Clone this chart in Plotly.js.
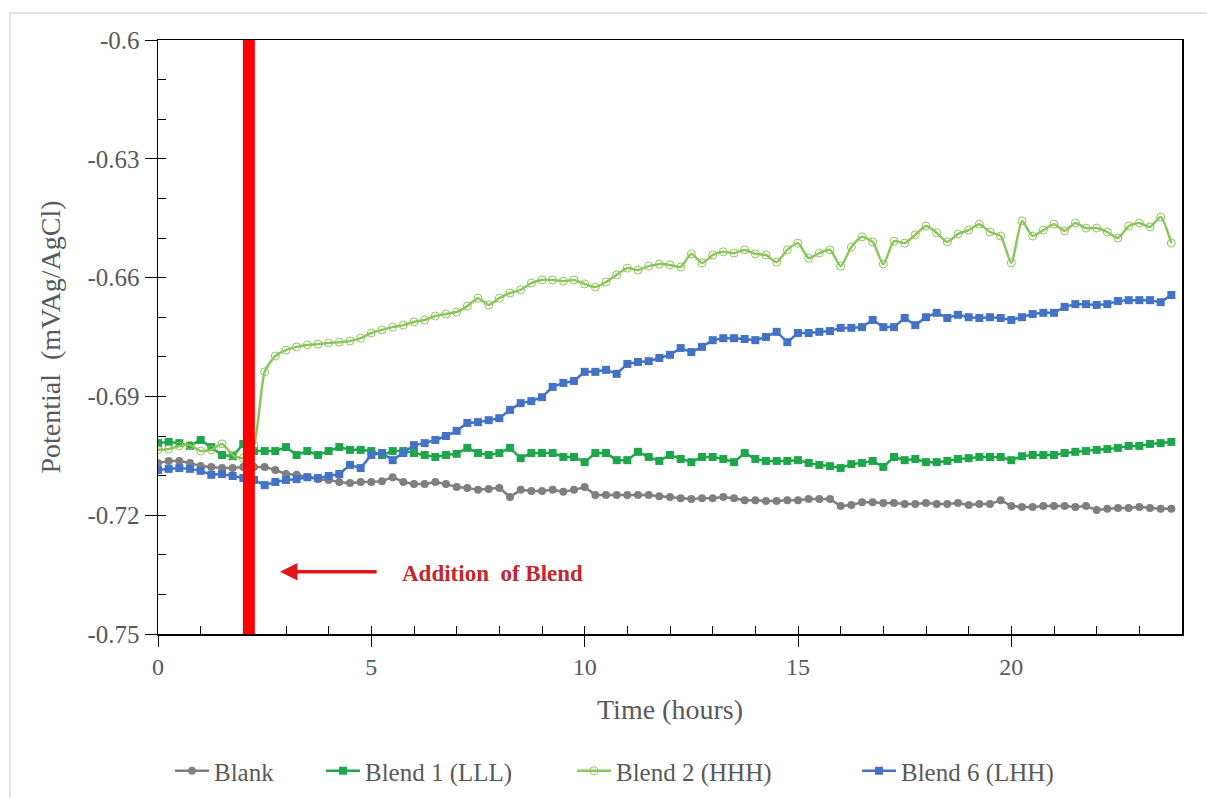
<!DOCTYPE html>
<html>
<head>
<meta charset="utf-8">
<script src="https://cdn.plot.ly/plotly-3.0.1.min.js"></script>
<style>html,body{margin:0;padding:0;background:#fff;}#chart{width:1207px;height:798px;}</style>
</head>
<body>
<div id="chart"></div>
<script>
const timeHours = [0,0.25,0.5,0.75,1,1.25,1.5,1.75,2,2.25,2.5,2.75,3,3.25,3.5,3.75,4,4.25,4.5,4.75,5,5.25,5.5,5.75,6,6.25,6.5,6.75,7,7.25,7.5,7.75,8,8.25,8.5,8.75,9,9.25,9.5,9.75,10,10.25,10.5,10.75,11,11.25,11.5,11.75,12,12.25,12.5,12.75,13,13.25,13.5,13.75,14,14.25,14.5,14.75,15,15.25,15.5,15.75,16,16.25,16.5,16.75,17,17.25,17.5,17.75,18,18.25,18.5,18.75,19,19.25,19.5,19.75,20,20.25,20.5,20.75,21,21.25,21.5,21.75,22,22.25,22.5,22.75,23,23.25,23.5,23.75];

const blank = [-0.7068,-0.7063,-0.7063,-0.7068,-0.7076,-0.7078,-0.7081,-0.7081,-0.7078,-0.7078,
 -0.7078,-0.7086,-0.7096,-0.7098,-0.7104,-0.7109,-0.7111,-0.7116,-0.7119,-0.7116,
 -0.7116,-0.7114,-0.7104,-0.7116,-0.7121,-0.7121,-0.7116,-0.7121,-0.7129,-0.7131,
 -0.7136,-0.7134,-0.7131,-0.7154,-0.7136,-0.7139,-0.7139,-0.7136,-0.7141,-0.7136,
 -0.7129,-0.7149,-0.7149,-0.7149,-0.7149,-0.7149,-0.7149,-0.7152,-0.7154,-0.7157,
 -0.7159,-0.7157,-0.7157,-0.7154,-0.7157,-0.7162,-0.7162,-0.7164,-0.7164,-0.7162,
 -0.7162,-0.7159,-0.7159,-0.7159,-0.7177,-0.7174,-0.7167,-0.7167,-0.7169,-0.7169,
 -0.7172,-0.7172,-0.7169,-0.7172,-0.7172,-0.7169,-0.7174,-0.7172,-0.7172,-0.7162,
 -0.7177,-0.7179,-0.7179,-0.7177,-0.7177,-0.7177,-0.7179,-0.7177,-0.7187,-0.7184,
 -0.7182,-0.7182,-0.7179,-0.7182,-0.7184,-0.7184];

const blend1LLL = [-0.7018,-0.7015,-0.7018,-0.7025,-0.7010,-0.7028,-0.7048,-0.7051,-0.7020,-0.7038,
 -0.7038,-0.7038,-0.7028,-0.7048,-0.7038,-0.7048,-0.7038,-0.7028,-0.7035,-0.7035,
 -0.7038,-0.7048,-0.7038,-0.7038,-0.7043,-0.7048,-0.7053,-0.7048,-0.7045,-0.7030,
 -0.7043,-0.7048,-0.7043,-0.7030,-0.7056,-0.7043,-0.7043,-0.7043,-0.7053,-0.7053,
 -0.7066,-0.7043,-0.7043,-0.7061,-0.7061,-0.7040,-0.7053,-0.7063,-0.7048,-0.7058,
 -0.7066,-0.7053,-0.7053,-0.7058,-0.7066,-0.7043,-0.7058,-0.7063,-0.7063,-0.7063,
 -0.7061,-0.7068,-0.7073,-0.7076,-0.7081,-0.7071,-0.7068,-0.7063,-0.7078,-0.7053,
 -0.7061,-0.7058,-0.7066,-0.7066,-0.7063,-0.7058,-0.7056,-0.7053,-0.7053,-0.7053,
 -0.7061,-0.7051,-0.7048,-0.7048,-0.7048,-0.7043,-0.7040,-0.7038,-0.7035,-0.7033,
 -0.7030,-0.7025,-0.7025,-0.7020,-0.7018,-0.7015];

const blend2HHH = [-0.7035,-0.7033,-0.7025,-0.7023,-0.7038,-0.7035,-0.7020,-0.7048,-0.7056,-0.7023,
 -0.6838,-0.6798,-0.6783,-0.6775,-0.6770,-0.6768,-0.6765,-0.6763,-0.6760,-0.6753,
 -0.6740,-0.6732,-0.6725,-0.6720,-0.6712,-0.6707,-0.6697,-0.6692,-0.6687,-0.6672,
 -0.6652,-0.6669,-0.6652,-0.6639,-0.6631,-0.6614,-0.6606,-0.6606,-0.6609,-0.6606,
 -0.6616,-0.6624,-0.6611,-0.6593,-0.6576,-0.6581,-0.6571,-0.6566,-0.6568,-0.6573,
 -0.6540,-0.6563,-0.6543,-0.6535,-0.6538,-0.6530,-0.6540,-0.6543,-0.6561,-0.6530,
 -0.6513,-0.6551,-0.6538,-0.6530,-0.6571,-0.6523,-0.6497,-0.6510,-0.6566,-0.6508,
 -0.6513,-0.6492,-0.6470,-0.6487,-0.6510,-0.6490,-0.6480,-0.6465,-0.6485,-0.6495,
 -0.6563,-0.6457,-0.6495,-0.6480,-0.6465,-0.6482,-0.6462,-0.6475,-0.6475,-0.6485,
 -0.6500,-0.6470,-0.6462,-0.6472,-0.6447,-0.6513];

const blend6LHH = [-0.7086,-0.7083,-0.7081,-0.7083,-0.7088,-0.7098,-0.7096,-0.7101,-0.7106,-0.7111,
 -0.7124,-0.7116,-0.7111,-0.7109,-0.7104,-0.7106,-0.7101,-0.7096,-0.7073,-0.7081,
 -0.7048,-0.7043,-0.7061,-0.7043,-0.7023,-0.7018,-0.7010,-0.7000,-0.6987,-0.6967,
 -0.6965,-0.6960,-0.6955,-0.6934,-0.6917,-0.6912,-0.6902,-0.6876,-0.6866,-0.6861,
 -0.6838,-0.6838,-0.6833,-0.6843,-0.6818,-0.6813,-0.6811,-0.6803,-0.6795,-0.6778,
 -0.6788,-0.6775,-0.6758,-0.6753,-0.6753,-0.6755,-0.6758,-0.6750,-0.6737,-0.6763,
 -0.6740,-0.6740,-0.6737,-0.6735,-0.6727,-0.6727,-0.6725,-0.6707,-0.6725,-0.6725,
 -0.6702,-0.6720,-0.6700,-0.6689,-0.6702,-0.6694,-0.6700,-0.6702,-0.6700,-0.6702,
 -0.6707,-0.6700,-0.6692,-0.6689,-0.6689,-0.6674,-0.6667,-0.6667,-0.6669,-0.6667,
 -0.6659,-0.6657,-0.6657,-0.6657,-0.6662,-0.6644];

const seriesNames = ['Blank', 'Blend 1 (LLL)', 'Blend 2 (HHH)', 'Blend 6 (LHH)'];
const xTickVals = [0, 5, 10, 15, 20];
const xTickText = ['0', '5', '10', '15', '20'];
const yTickVals = [-0.75, -0.72, -0.69, -0.66, -0.63, -0.6];
const yTickText = ['-0.75', '-0.72', '-0.69', '-0.66', '-0.63', '-0.6'];
const additionTime = 2.13;
const annotationText = 'Addition&nbsp; of Blend';

const FONT = 'Liberation Serif';
const GREY = '#595959';
const xRange = [0, 24];
const yRange = [-0.75, -0.6];

const traces = [
  {x: timeHours, y: blank, name: seriesNames[0], mode: 'lines+markers', legend: 'legend',
   line: {color: '#7f7f7f', width: 2.5}, marker: {symbol: 'circle', size: 8, color: '#7f7f7f'}},
  {x: timeHours, y: blend1LLL, name: seriesNames[1], mode: 'lines+markers', legend: 'legend2',
   line: {color: '#1fa64b', width: 2.5}, marker: {symbol: 'square', size: 8, color: '#1fa64b'}},
  {x: timeHours, y: blend2HHH, name: seriesNames[2], mode: 'lines+markers', legend: 'legend3',
   line: {color: '#8cc65a', width: 2.5, shape: 'spline', smoothing: 0.6},
   marker: {symbol: 'circle-open', size: 8, color: '#8cc65a', line: {width: 1}}},
  {x: timeHours, y: blend6LHH, name: seriesNames[3], mode: 'lines+markers', legend: 'legend4',
   line: {color: '#4472c4', width: 2.5}, marker: {symbol: 'square', size: 8, color: '#4472c4'}},
  {x: [null], y: [null], xaxis: 'x2', yaxis: 'y2', showlegend: false, hoverinfo: 'skip', mode: 'markers'}
];

function legendAt(px) {
  return {orientation: 'h', xref: 'container', yref: 'container', x: px / 1207, xanchor: 'left',
          y: 1 - 771 / 798, yanchor: 'middle', itemwidth: 34,
          font: {family: FONT, size: 25, color: GREY}, bgcolor: 'rgba(0,0,0,0)', borderwidth: 0};
}

const layout = {
  width: 1207, height: 798,
  margin: {l: 158, r: 25, t: 40, b: 164, autoexpand: false},
  paper_bgcolor: '#ffffff', plot_bgcolor: '#ffffff',
  font: {family: FONT, color: GREY, size: 22},
  showlegend: true,
  legend: legendAt(170),
  legend2: legendAt(321),
  legend3: legendAt(572),
  legend4: legendAt(857),
  xaxis: {range: xRange, tickvals: xTickVals, ticktext: xTickText,
          ticks: 'outside', ticklen: 11, tickwidth: 1, tickcolor: '#000',
          showline: true, linecolor: '#000', linewidth: 1.5, mirror: true,
          showgrid: false, zeroline: false,
          tickfont: {family: FONT, size: 24, color: GREY},
          title: {text: 'Time (hours)', font: {family: FONT, size: 28, color: GREY}, standoff: 20}},
  yaxis: {range: yRange, tickvals: yTickVals, ticktext: yTickText,
          ticks: 'outside', ticklen: 12, tickwidth: 1, tickcolor: '#000',
          showline: true, linecolor: '#000', linewidth: 1.5, mirror: true,
          showgrid: false, zeroline: false,
          tickfont: {family: FONT, size: 25, color: GREY},
          title: {text: 'Potential&nbsp; (mVAg/AgCl)', font: {family: FONT, size: 28, color: GREY}, standoff: 18}},
  xaxis2: {overlaying: 'x', anchor: 'y', range: xRange, dtick: 1, tick0: 0, ticks: 'inside', ticklen: 8,
           tickcolor: '#000', showticklabels: false, showline: false, showgrid: false, zeroline: false},
  yaxis2: {overlaying: 'y', anchor: 'x', range: yRange, dtick: 0.01, tick0: -0.75, ticks: 'inside', ticklen: 8,
           tickcolor: '#000', showticklabels: false, showline: false, showgrid: false, zeroline: false},
  shapes: [
    {type: 'rect', xref: 'x', yref: 'y', x0: additionTime - 0.14, x1: additionTime + 0.14,
     y0: yRange[0], y1: yRange[1], fillcolor: '#ff0000', line: {width: 0}, layer: 'above'},
    {type: 'rect', xref: 'paper', yref: 'paper', x0: -0.1445, x1: 1.1, y0: -0.4, y1: 1.0455,
     line: {color: '#d9d9d9', width: 1.5}, fillcolor: 'rgba(0,0,0,0)', layer: 'below'}
  ],
  annotations: [
    {x: 2.86, y: -0.7343, ax: 5.16, ay: -0.7343, axref: 'x', ayref: 'y', xref: 'x', yref: 'y',
     text: '', showarrow: true, arrowhead: 2, arrowsize: 1, arrowwidth: 3.5, arrowcolor: '#e0161b'},
    {x: 5.67, y: -0.7348, xref: 'x', yref: 'y', xanchor: 'left', yanchor: 'middle', showarrow: false,
     text: '<b>' + annotationText + '</b>', font: {family: FONT, size: 23, color: '#c1272d'}}
  ]
};

Plotly.newPlot('chart', traces, layout, {displayModeBar: false, staticPlot: true});
</script>
</body>
</html>
